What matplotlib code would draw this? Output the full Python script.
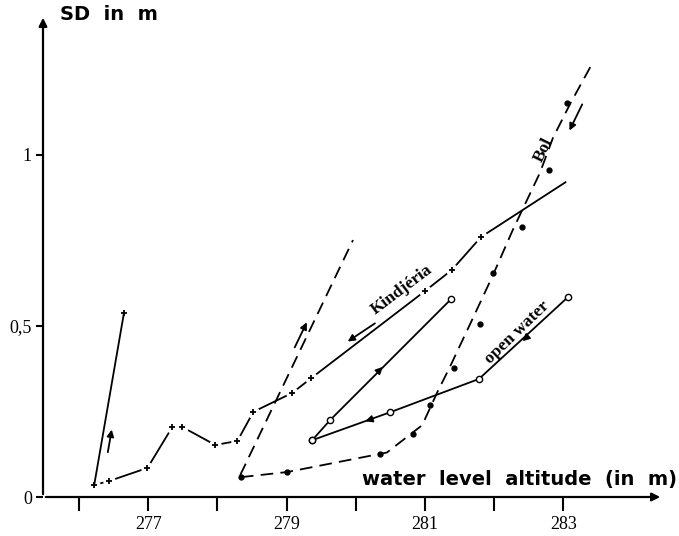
import matplotlib
matplotlib.use('Agg')
import matplotlib.pyplot as plt

# Kindjeria (broken line with + points)
kin_x = [276.22, 276.44, 276.99, 277.35, 277.49, 277.97, 278.29, 278.52, 279.08, 279.36, 281.00, 281.39, 281.81, 283.03]
kin_y = [0.035, 0.047, 0.085, 0.205, 0.205, 0.152, 0.164, 0.249, 0.304, 0.348, 0.602, 0.664, 0.760, 0.920]
# steep Kindjeria rise
rise_x = [276.22, 276.65]
rise_y = [0.035, 0.538]
# straight dashed rise
dash_x = [278.33, 279.96]
dash_y = [0.064, 0.751]
# Bol fitted curve and measured points
bol_x = [278.34, 279.01, 280.45, 280.96, 281.18, 281.36, 281.70, 281.97, 282.27, 282.66, 282.85, 283.10, 283.39]
bol_y = [0.058, 0.073, 0.130, 0.210, 0.307, 0.380, 0.526, 0.643, 0.781, 0.947, 1.050, 1.150, 1.257]
bol_px = [278.34, 279.01, 280.35, 280.82, 281.07, 281.42, 281.80, 281.99, 282.40, 282.79, 283.05]
bol_py = [0.058, 0.073, 0.126, 0.184, 0.269, 0.377, 0.506, 0.655, 0.789, 0.956, 1.152]
# open water loop
ow_up_x = [279.37, 279.63, 281.38]
ow_up_y = [0.166, 0.225, 0.579]
ow_dn_x = [283.07, 281.78, 280.50, 279.37]
ow_dn_y = [0.585, 0.345, 0.248, 0.166]

xticks = [276, 277, 278, 279, 280, 281, 282, 283]
xtick_labels = ['', '277', '', '279', '', '281', '', '283']
yticks = [0, 0.5, 1]
ytick_labels = ['0', '0,5', '1']

fig = plt.figure(figsize=(6.79, 5.36), dpi=100)
ax = fig.add_axes([43/679, 39/536, 620/679, 482/536])
ax.set_xlim(275.48, 284.44)
ax.set_ylim(0, 1.409)
for s in ['top', 'right', 'left', 'bottom']:
    ax.spines[s].set_visible(False)

# axes with arrows
ax.annotate('', xy=(1, 0), xytext=(0, 0), xycoords='axes fraction',
            arrowprops=dict(arrowstyle='-|>', color='black', lw=1.6, mutation_scale=12))
ax.annotate('', xy=(0, 1), xytext=(0, 0), xycoords='axes fraction',
            arrowprops=dict(arrowstyle='-|>', color='black', lw=1.6, mutation_scale=12))

ax.set_xticks(xticks)
ax.set_xticklabels(xtick_labels, fontfamily='Liberation Serif', fontsize=13)
ax.set_yticks(yticks)
ax.set_yticklabels(ytick_labels, fontfamily='Liberation Serif', fontsize=13)
ax.tick_params(axis='x', direction='out', length=10, width=1.5, pad=4)
ax.tick_params(axis='y', direction='out', length=5, width=1.5, pad=3)

lw = 1.3
# solid segments broken at each point
ax.plot(kin_x, kin_y, color='black', lw=lw, zorder=2)
ax.plot(kin_x[:-1], kin_y[:-1], ls='none', marker='o', ms=8, mfc='white', mec='white', zorder=2.5)
ax.plot(kin_x[:-1], kin_y[:-1], ls='none', marker='+', ms=4, mew=1.3, color='black', zorder=4)
ax.plot(rise_x, rise_y, color='black', lw=lw, zorder=3)
ax.plot(rise_x[1], rise_y[1], marker='+', ms=4, mew=1.3, color='black', zorder=4)
ax.plot(dash_x, dash_y, color='black', lw=lw, ls=(0, (7, 4)), zorder=3)
ax.plot(bol_x, bol_y, color='black', lw=lw, ls=(0, (7, 4)), zorder=3)
ax.plot(bol_px, bol_py, ls='none', marker='o', ms=3.5, color='black', zorder=4)
ax.plot(ow_up_x, ow_up_y, color='black', lw=lw, marker='o', ms=4.5, mfc='white', mec='black', mew=1, zorder=3)
ax.plot(ow_dn_x, ow_dn_y, color='black', lw=lw, marker='o', ms=4.5, mfc='white', mec='black', mew=1, zorder=3)

arr = dict(arrowstyle='-|>', color='black', lw=1.3, mutation_scale=10)
ax.annotate('', xy=(276.48, 0.205), xytext=(276.41, 0.123), arrowprops=arr)
ax.annotate('', xy=(279.31, 0.518), xytext=(279.10, 0.430), arrowprops=arr)
ax.annotate('', xy=(279.85, 0.450), xytext=(280.31, 0.512), arrowprops=arr)
ax.annotate('', xy=(283.07, 1.064), xytext=(283.29, 1.155), arrowprops=arr)
# arrowheads on open water lines
ax.annotate('', xy=(280.42, 0.386), xytext=(280.30, 0.362), arrowprops=arr)
ax.annotate('', xy=(280.10, 0.219), xytext=(280.25, 0.229), arrowprops=arr)
ax.annotate('', xy=(282.38, 0.450), xytext=(282.50, 0.472), arrowprops=arr)

ax.text(280.66, 0.605, 'Kindjéria', rotation=37, ha='center', va='center',
        fontfamily='Liberation Serif', fontweight='bold', fontsize=12.5, zorder=5)
ax.text(282.71, 1.015, 'Bol', rotation=64, ha='center', va='center',
        fontfamily='Liberation Serif', fontweight='bold', fontsize=12.5)
ax.text(282.33, 0.480, 'open water', rotation=44, ha='center', va='center',
        fontfamily='Liberation Serif', fontweight='bold', fontsize=12.5)

fig.text(60/679, 1 - 15/536, 'SD  in  m', ha='left', va='center',
         fontfamily='DejaVu Sans', fontweight='bold', fontsize=14)
fig.text(362/679, 1 - 480/536, 'water  level  altitude  (in  m)', ha='left', va='center',
         fontfamily='DejaVu Sans', fontweight='bold', fontsize=14)

fig.savefig('out.png', dpi=100)
